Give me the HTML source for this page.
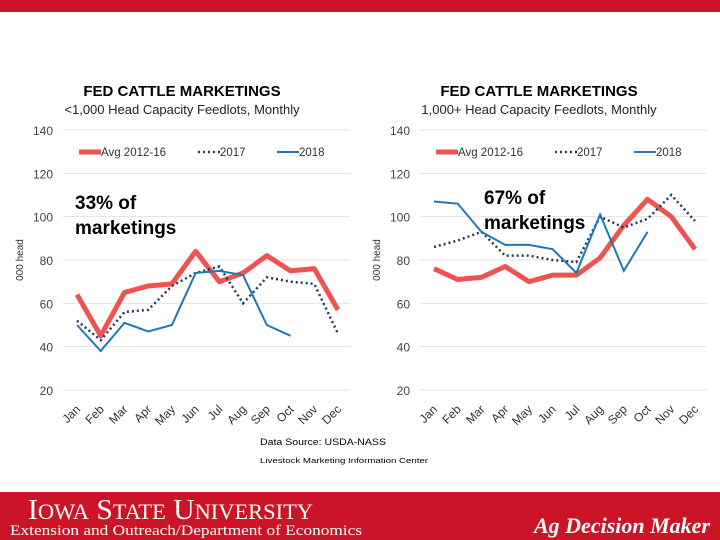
<!DOCTYPE html>
<html><head><meta charset="utf-8"><style>
body{margin:0;width:720px;height:540px;overflow:hidden;background:#fff;font-family:"Liberation Sans",sans-serif}
svg{position:absolute;left:0;top:0}
</style></head><body>
<svg id="s" width="720" height="540">
<rect x="0" y="0" width="720" height="12" fill="#cc1428"/>
<rect x="0" y="492" width="720" height="48" fill="#cc1428"/>
<text x="28" y="519" font-family="Liberation Serif,serif" font-size="29" fill="#fff" textLength="285" lengthAdjust="spacingAndGlyphs">I<tspan font-size="22">OWA</tspan> S<tspan font-size="22">TATE</tspan> U<tspan font-size="22">NIVERSITY</tspan></text>
<text x="10" y="535" font-family="Liberation Serif,serif" font-size="15" fill="#fff" textLength="352" lengthAdjust="spacingAndGlyphs">Extension and Outreach/Department of Economics</text>
<text x="710" y="533" text-anchor="end" font-family="Liberation Serif,serif" font-style="italic" font-weight="bold" font-size="22" fill="#fff">Ag Decision Maker</text>
<text x="260" y="445" font-size="9" fill="#000" textLength="126" lengthAdjust="spacingAndGlyphs">Data Source:  USDA-NASS</text>
<text x="260" y="463" font-size="7.5" fill="#000" textLength="168" lengthAdjust="spacingAndGlyphs">Livestock Marketing Information Center</text>
</svg>
<script>
const months=["Jan","Feb","Mar","Apr","May","Jun","Jul","Aug","Sep","Oct","Nov","Dec"];
const yTicks=[20,40,60,80,100,120,140];
const smallAvg=[64,45,65,68,69,84,70,74,82,75,76,57];
const small2017=[52,43,56,57,68,74,77,60,72,70,69,46];
const small2018=[50,38,51,47,50,74,75,73,50,45];
const largeAvg=[76,71,72,77,70,73,73,81,96,108,100,85];
const large2017=[86,89,93,82,82,80,79,100,95,99,110,98];
const large2018=[107,106,93,87,87,85,74,101,75,93];
const svg=document.getElementById('s');
const NS='http://www.w3.org/2000/svg';
function mk(t,a,txt){const e=document.createElementNS(NS,t);for(const k in a)e.setAttribute(k,a[k]);if(txt!==undefined)e.textContent=txt;svg.appendChild(e);return e;}
function chart(ox,title,sub,avg,s17,s18,note,noteX,noteY,prefix){
  const x0=ox+14,x1=ox+275,gl=ox,gr=ox+287;
  const X=i=>x0+i*(x1-x0)/11;
  const Y=v=>390-(v-20)*(260/120);
  let e=mk('text',{x:ox+119,y:96,'text-anchor':'middle','font-size':15,'font-weight':'bold',fill:'#000'},title);
  
  e=mk('text',{x:ox+119,y:114,'text-anchor':'middle','font-size':13,fill:'#222'},sub);
  
  yTicks.forEach(v=>{
    e=mk('line',{x1:gl,x2:gr,y1:Y(v),y2:Y(v),stroke:'#e2e2e2','stroke-width':1});
    
    e=mk('text',{x:gl-10,y:Y(v)+5,'text-anchor':'end','font-size':12,fill:'#444'},v);
    
  });
  e=mk('text',{transform:`translate(${gl-40},260) rotate(-90)`,'text-anchor':'middle','font-size':10,fill:'#333'},'000 head');
  
  months.forEach((m,i)=>{
    e=mk('text',{transform:`translate(${X(i)+4},410) rotate(-45)`,'text-anchor':'end','font-size':12,fill:'#333'},m);
    
  });
  const pts=a=>a.map((v,i)=>X(i)+','+Y(v)).join(' ');
  e=mk('polyline',{points:pts(avg),fill:'none',stroke:'#ef5350','stroke-width':5,'stroke-linejoin':'round'});
  
  e=mk('polyline',{points:pts(s17),fill:'none',stroke:'#1f3a5f','stroke-width':2.5,'stroke-dasharray':'2 3'});
  
  e=mk('polyline',{points:pts(s18),fill:'none',stroke:'#1f77b4','stroke-width':2});
  
  const ly=152;
  e=mk('line',{x1:ox+16,x2:ox+38,y1:ly,y2:ly,stroke:'#ef5350','stroke-width':5});
  
  e=mk('text',{x:ox+38,y:ly+4,'font-size':11.5,fill:'#333'},'Avg 2012-16');
  
  e=mk('line',{x1:ox+135,x2:ox+157,y1:ly,y2:ly,stroke:'#1f3a5f','stroke-width':2.5,'stroke-dasharray':'2 3'});
  
  e=mk('text',{x:ox+157,y:ly+4,'font-size':11.5,fill:'#333'},'2017');
  
  e=mk('line',{x1:ox+214,x2:ox+236,y1:ly,y2:ly,stroke:'#1f77b4','stroke-width':2});
  
  e=mk('text',{x:ox+236,y:ly+4,'font-size':11.5,fill:'#333'},'2018');
  
  e=mk('text',{x:noteX,y:noteY,'font-size':19,'font-weight':'bold',fill:'#000'},note);
  
  e=mk('text',{x:noteX,y:noteY+25,'font-size':19,'font-weight':'bold',fill:'#000'},'marketings');
  
}
chart(63,'FED CATTLE MARKETINGS','<1,000 Head Capacity Feedlots, Monthly',smallAvg,small2017,small2018,'33% of',75,209,'small-feedlots');
chart(420,'FED CATTLE MARKETINGS','1,000+ Head Capacity Feedlots, Monthly',largeAvg,large2017,large2018,'67% of',484,204,'large-feedlots');
</script>
</body></html>
